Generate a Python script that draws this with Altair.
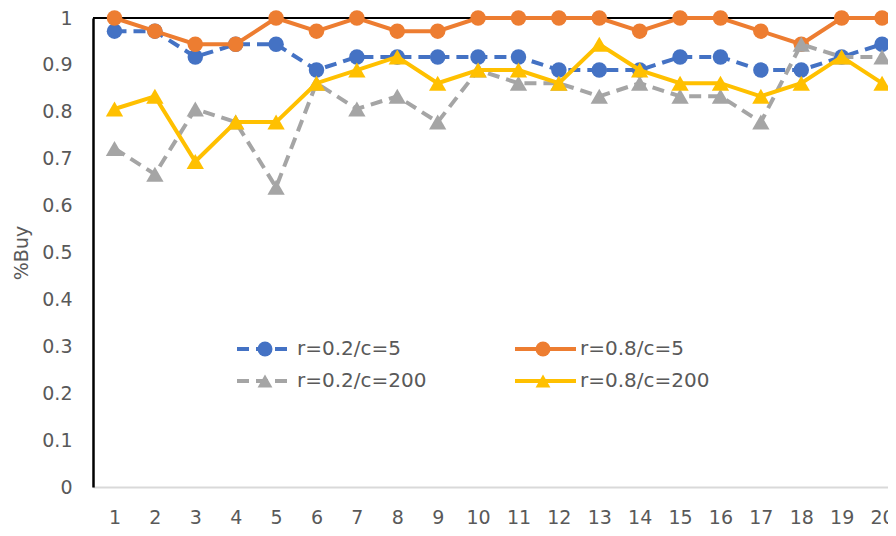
import altair as alt
import pandas as pd

x_vals = list(range(1, 21))
series_names = ["r=0.2/c=5", "r=0.8/c=5", "r=0.2/c=200", "r=0.8/c=200"]
blue = [0.972, 0.972, 0.917, 0.944, 0.944, 0.889, 0.917, 0.917, 0.917, 0.917,
        0.917, 0.889, 0.889, 0.889, 0.917, 0.917, 0.889, 0.889, 0.917, 0.944]
orange = [1.0, 0.972, 0.944, 0.944, 1.0, 0.972, 1.0, 0.972, 0.972, 1.0,
          1.0, 1.0, 1.0, 0.972, 1.0, 1.0, 0.972, 0.944, 1.0, 1.0]
gray = [0.722, 0.667, 0.806, 0.778, 0.639, 0.861, 0.806, 0.833, 0.778, 0.889,
        0.861, 0.861, 0.833, 0.861, 0.833, 0.833, 0.778, 0.944, 0.917, 0.917]
yellow = [0.806, 0.833, 0.694, 0.778, 0.778, 0.861, 0.889, 0.917, 0.861, 0.889,
          0.889, 0.861, 0.944, 0.889, 0.861, 0.861, 0.833, 0.861, 0.917, 0.861]
y_ticks = [0, 0.1, 0.2, 0.3, 0.4, 0.5, 0.6, 0.7, 0.8, 0.9, 1.0]

all_values = [blue, orange, gray, yellow]
colors = ["#4472C4", "#ED7D31", "#A5A5A5", "#FFC000"]
shapes = ["circle", "circle", "triangle-up", "triangle-up"]
dashed = [True, False, True, False]

FONT = "DejaVu Sans"
TXT = "#595959"

xscale = alt.Scale(domain=[0.468, 20.147], nice=False, zero=False)
yscale = alt.Scale(domain=[0, 1], nice=False)

x_enc = alt.X("x:Q", scale=xscale, axis=alt.Axis(
    values=x_vals, format="d", ticks=False, grid=False, domainColor="#D9D9D9",
    domainWidth=2, labelFontSize=19, labelColor=TXT, labelFont=FONT,
    labelPadding=21, title=None, labelFlush=False))
y_enc = alt.Y("y:Q", scale=yscale, axis=alt.Axis(
    values=y_ticks,
    labelExpr="datum.value == 0 ? '0' : datum.value == 1 ? '1' : format(datum.value, '.1f')",
    ticks=False, grid=False, domainColor="black", domainWidth=2.5,
    labelFontSize=19, labelColor=TXT, labelFont=FONT, labelPadding=21,
    title="%Buy", titleFont=FONT, titleFontSize=19, titleColor=TXT,
    titleFontWeight="normal", titlePadding=10))

layers = []
border = alt.Chart(pd.DataFrame({"y": [1.0]})).mark_rule(
    color="black", strokeWidth=2).encode(y=alt.Y("y:Q", scale=yscale))
layers.append(border)

for name, vals, col, shp, dsh in zip(series_names, all_values, colors, shapes, dashed):
    df = pd.DataFrame({"x": x_vals, "y": vals, "series": name})
    line_kw = dict(color=col, strokeWidth=4)
    if dsh:
        line_kw["strokeDash"] = [12, 7]
    base = alt.Chart(df)
    layers.append(base.mark_line(**line_kw).encode(x=x_enc, y=y_enc))
    size = 240 if shp == "circle" else 300
    layers.append(base.mark_point(shape=shp, filled=True, color=col, opacity=1,
                                  size=size).encode(x=x_enc, y=y_enc))

# in-plot legend (layout positions in pixels)
leg_cols = [(144, 200, 172, 204), (422, 483, 450, 487)]
leg_rows = [331, 363]
for i, (name, col, shp, dsh) in enumerate(zip(series_names, colors, shapes, dashed)):
    cx1, cx2, cc, tx = leg_cols[i % 2]
    ry = leg_rows[i // 2]
    ld = alt.Chart(pd.DataFrame({"label": [name]}))
    rkw = dict(color=col, strokeWidth=4)
    if dsh:
        rkw["strokeDash"] = [12, 7]
    layers.append(ld.mark_rule(**rkw).encode(
        x=alt.value(cx1), x2=alt.value(cx2), y=alt.value(ry)))
    layers.append(ld.mark_point(shape=shp, filled=True, color=col, opacity=1,
                                size=225 if shp == "circle" else 220).encode(
        x=alt.value(cc), y=alt.value(ry)))
    layers.append(ld.mark_text(align="left", baseline="middle", font=FONT,
                               fontSize=20, color=TXT).encode(
        x=alt.value(tx), y=alt.value(ry), text="label:N"))

chart = alt.layer(*layers).properties(
    width=795, height=469,
    autosize=alt.AutoSizeParams(type="none"),
    padding={"left": 85, "top": 10, "right": 0, "bottom": 41},
).configure_view(stroke=None).configure(background="white")

chart.save("out.html", embed_options={"renderer": "svg", "actions": False})
